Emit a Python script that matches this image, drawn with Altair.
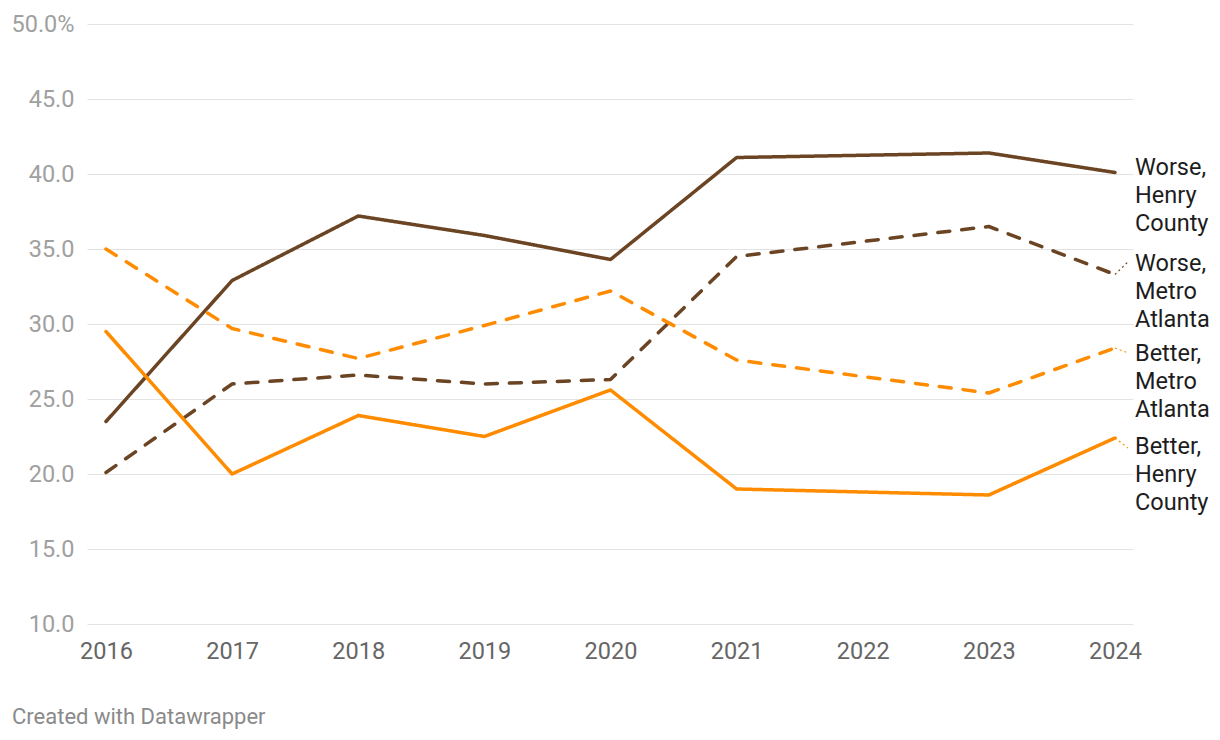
import altair as alt
import pandas as pd

# ---- data ----
years = [2016, 2017, 2018, 2019, 2020, 2021, 2023, 2024]
worse_henry = [23.5, 32.9, 37.2, 35.9, 34.3, 41.1, 41.4, 40.1]
worse_metro = [20.1, 26.0, 26.6, 26.0, 26.3, 34.5, 36.5, 33.3]
better_metro = [35.0, 29.7, 27.7, 29.9, 32.2, 27.6, 25.4, 28.4]
better_henry = [29.5, 20.0, 23.9, 22.5, 25.6, 19.0, 18.6, 22.4]

series_names = ["Worse, Henry County", "Worse, Metro Atlanta",
                "Better, Metro Atlanta", "Better, Henry County"]
series_colors = ["#6b4423", "#6b4423", "#ff8c00", "#ff8c00"]
series_dash = [[1, 0], [12, 12], [12, 12], [1, 0]]
label_texts = ["Worse,\nHenry\nCounty", "Worse,\nMetro\nAtlanta",
               "Better,\nMetro\nAtlanta", "Better,\nHenry\nCounty"]
# first-line positions of the labels (value units) after Datawrapper-style de-overlap
label_y = [40.43, 34.03, 28.03, 21.83]
# where the dotted leader meets each label
leader_y = [None, 34.15, 28.07, 21.73]

x_ticks = [2016, 2017, 2018, 2019, 2020, 2021, 2022, 2023, 2024]
y_ticks = [10, 15, 20, 25, 30, 35, 40, 45, 50]

# ---- tables ----
values = [worse_henry, worse_metro, better_metro, better_henry]
rows = []
for name, vals in zip(series_names, values):
    for yr, v in zip(years, vals):
        rows.append({"series": name, "year": yr, "value": v})
df = pd.DataFrame(rows)

lab_rows = []
for name, vals, txt, ly, ld in zip(series_names, values, label_texts, label_y, leader_y):
    lab_rows.append({"series": name, "year": years[-1], "end": vals[-1],
                     "text": txt, "ly": ly, "x2": 2024.103, "ld": ld})
lab = pd.DataFrame(lab_rows)
lead = lab.dropna(subset=["ld"])

FS = 23.5
x_scale = alt.Scale(domain=[2015.8494, 2024.1427], nice=False, zero=False)
y_scale = alt.Scale(domain=[10, 50], nice=False, zero=False)
color = alt.Color("series:N", scale=alt.Scale(domain=series_names, range=series_colors), legend=None)
dash = alt.StrokeDash("series:N", scale=alt.Scale(domain=series_names, range=series_dash), legend=None)

lines = alt.Chart(df).mark_line(strokeWidth=3.5, strokeCap="round", strokeJoin="round").encode(
    x=alt.X("year:Q", scale=x_scale,
            axis=alt.Axis(values=x_ticks, format="d", title=None, grid=False, domain=False,
                          ticks=False, labelFontSize=FS, labelColor="#666666", labelFont="Roboto",
                          labelPadding=15, labelFlush=False, labelOverlap=False)),
    y=alt.Y("value:Q", scale=y_scale,
            axis=alt.Axis(values=y_ticks, title=None, grid=True, gridColor="#e3e3e3", gridWidth=1,
                          domain=False, ticks=False, labelFontSize=FS, labelColor="#a0a0a0",
                          labelFont="Roboto", labelPadding=13, labelFlush=False, labelOverlap=False,
                          labelBound=False,
                          labelExpr="datum.value == 50 ? format(datum.value, '.1f') + '%' : format(datum.value, '.1f')")),
    color=color,
    strokeDash=dash,
    order="year:Q",
)

leaders = alt.Chart(lead).mark_rule(strokeWidth=1.2, strokeDash=[2, 3]).encode(
    x=alt.X("year:Q", scale=x_scale),
    x2="x2:Q",
    y=alt.Y("end:Q", scale=y_scale),
    y2="ld:Q",
    color=color,
)

labels = alt.Chart(lab).mark_text(align="left", baseline="middle", dx=20, fontSize=FS,
                                  font="Roboto", lineBreak="\n", lineHeight=28,
                                  color="#1d1d1d").encode(
    x=alt.X("year:Q", scale=x_scale),
    y=alt.Y("ly:Q", scale=y_scale),
    text="text:N",
)

credit = alt.Chart(pd.DataFrame({"t": ["Created with Datawrapper"]})).mark_text(
    align="left", baseline="middle", fontSize=22, font="Roboto", color="#8a8a8a"
).encode(x=alt.value(-75), y=alt.value(693), text="t:N")

chart = alt.layer(lines, leaders, labels, credit).properties(
    width=1046, height=600,
    background="white",
    autosize=alt.AutoSizeParams(type="none"),
    padding={"left": 79, "top": 16, "right": 78, "bottom": 110},
).configure_view(strokeWidth=0, stroke=None)

chart.save("out.html", embed_options={"renderer": "svg", "actions": False})
